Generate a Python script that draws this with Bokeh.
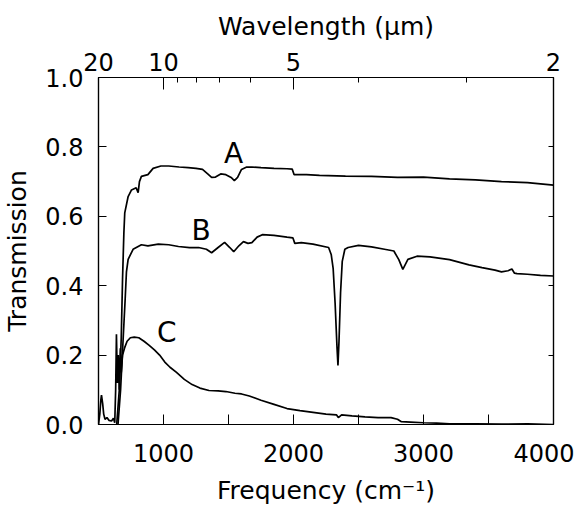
from bokeh.plotting import figure
from bokeh.models import LinearAxis, FixedTicker, ColumnDataSource, Range1d
from bokeh.core.properties import value
from bokeh.embed import file_html
from bokeh.resources import INLINE

# ---- data ----
freq_a = [640, 660, 675, 685, 695, 702, 728, 754, 790, 805, 815, 830, 880, 920, 980,
          1040, 1120, 1190, 1250, 1300, 1340, 1370, 1400, 1440, 1480, 1520, 1545, 1570,
          1600, 1640, 1680, 1750, 1850, 1950, 1990, 2005, 2100, 2200, 2400, 2600, 2800,
          3000, 3200, 3400, 3600, 3800, 4000]
trans_a = [0.0, 0.10, 0.25, 0.42, 0.55, 0.61, 0.657, 0.676, 0.682, 0.668, 0.70, 0.715,
           0.72, 0.738, 0.745, 0.745, 0.742, 0.74, 0.738, 0.735, 0.722, 0.712, 0.713,
           0.722, 0.72, 0.712, 0.703, 0.712, 0.735, 0.742, 0.742, 0.74, 0.738, 0.737,
           0.736, 0.72, 0.72, 0.718, 0.716, 0.715, 0.712, 0.713, 0.708, 0.705, 0.70,
           0.697, 0.69]

freq_b = [650, 670, 690, 705, 715, 728, 766, 830, 880, 960, 1040, 1115, 1200, 1270,
          1330, 1370, 1420, 1470, 1510, 1540, 1580, 1615, 1650, 1680, 1720, 1760, 1850,
          1950, 1995, 2010, 2060, 2150, 2270, 2290, 2305, 2320, 2335, 2342, 2350, 2362,
          2375, 2395, 2420, 2500, 2600, 2700, 2772, 2810, 2841, 2880, 2950, 3050, 3200,
          3350, 3450, 3550, 3600, 3650, 3680, 3700, 3720, 3800, 3900, 4000]
trans_b = [0.0, 0.10, 0.25, 0.36, 0.44, 0.476, 0.505, 0.518, 0.515, 0.52, 0.518, 0.513,
           0.51, 0.51, 0.505, 0.495, 0.51, 0.525, 0.51, 0.498, 0.515, 0.527, 0.522,
           0.524, 0.54, 0.547, 0.545, 0.54, 0.538, 0.522, 0.524, 0.52, 0.51, 0.49, 0.45,
           0.35, 0.22, 0.17, 0.24, 0.38, 0.47, 0.505, 0.51, 0.516, 0.512, 0.505, 0.50,
           0.475, 0.447, 0.476, 0.485, 0.483, 0.475, 0.46, 0.452, 0.445, 0.44, 0.443,
           0.448, 0.436, 0.435, 0.433, 0.43, 0.428]

freq_c = [500, 510, 518, 523, 532, 540, 550, 565, 580, 600, 615, 625, 632, 638, 645,
          652, 660, 668, 675, 685, 700, 720, 745, 775, 810, 850, 890, 930, 970, 1010,
          1050, 1100, 1160, 1220, 1280, 1350, 1420, 1480, 1550, 1600, 1660, 1750, 1850,
          1950, 2050, 2150, 2250, 2330, 2345, 2370, 2450, 2550, 2650, 2750, 2800, 2830,
          2900, 3000, 3100, 3200, 3400, 3600, 3800, 4000]
trans_c = [0.0, 0.03, 0.07, 0.085, 0.06, 0.03, 0.015, 0.02, 0.012, 0.01, 0.018, 0.005,
           0.10, 0.26, 0.12, 0.20, 0.10, 0.22, 0.15, 0.20, 0.22, 0.24, 0.25, 0.252,
           0.25, 0.24, 0.228, 0.215, 0.20, 0.18, 0.165, 0.15, 0.13, 0.115, 0.105, 0.098,
           0.097, 0.095, 0.09, 0.088, 0.082, 0.07, 0.058, 0.046, 0.04, 0.035, 0.03,
           0.028, 0.02, 0.028, 0.025, 0.022, 0.02, 0.02, 0.015, 0.008, 0.007, 0.005,
           0.004, 0.002, 0.002, 0.001, 0.002, 0.0]

curve_names = ["A", "B", "C"]
label_freq = [1540, 1290, 1025]
label_trans = [0.78, 0.56, 0.265]

freq_ticks = [1000, 2000, 3000, 4000]
freq_minor = [1500, 2500, 3500]
wl_major_pos = [500, 1000, 2000, 4000]
wl_major_text = ["20", "10", "5", "2"]
wl_minor_pos = [1111, 1250, 1429, 1667, 2500, 3333]
trans_ticks = [0.0, 0.2, 0.4, 0.6, 0.8, 1.0]

FONT = "DejaVu Sans"
TICK_FS = "24px"
LABEL_FS = "25px"

p = figure(width=574, height=507, output_backend="svg", toolbar_location=None,
           x_range=Range1d(500, 4000), y_range=Range1d(0, 1.0),
           min_border_left=97, min_border_right=21, min_border_top=77,
           min_border_bottom=82, x_axis_location="below")
p.xgrid.visible = False
p.ygrid.visible = False
p.outline_line_color = "black"
p.outline_line_width = 1.2
p.background_fill_color = "white"
p.border_fill_color = "white"

for fx, ty in [(freq_a, trans_a), (freq_b, trans_b), (freq_c, trans_c)]:
    p.line(fx, ty, line_color="black", line_width=1.7)

src = ColumnDataSource(dict(x=label_freq, y=label_trans, t=curve_names))
p.text(x="x", y="y", text="t", source=src, text_font=value(FONT),
       text_font_size="28px", text_align="center", text_baseline="middle",
       text_color="black")

def style(ax):
    ax.axis_line_color = "black"
    ax.axis_line_width = 1.2
    ax.major_tick_line_color = "black"
    ax.minor_tick_line_color = "black"
    ax.major_tick_out = 0
    ax.minor_tick_out = 0
    ax.major_label_text_font = FONT
    ax.major_label_text_font_size = TICK_FS
    ax.major_label_text_color = "black"
    ax.axis_label_text_font = FONT
    ax.axis_label_text_font_size = LABEL_FS
    ax.axis_label_text_font_style = "normal"
    ax.axis_label_text_color = "black"

# bottom axis
xb = p.xaxis[0]
style(xb)
xb.ticker = FixedTicker(ticks=freq_ticks, minor_ticks=freq_minor)
xb.major_tick_in = 10
xb.minor_tick_in = 10
xb.major_label_standoff = 19
xb.axis_label = "Frequency (cm\u207b\u00b9)"
xb.axis_label_standoff = 11

# left axis
yl = p.yaxis[0]
style(yl)
yl.ticker = FixedTicker(ticks=trans_ticks, minor_ticks=[])
yl.major_tick_in = 8
yl.major_label_standoff = 15
yl.axis_label = "Transmission"
yl.axis_label_standoff = 10
yl.major_label_overrides = {0.0: "0.0", 1.0: "1.0"}

# top axis (wavelength)
xt = LinearAxis(ticker=FixedTicker(ticks=wl_major_pos, minor_ticks=wl_minor_pos))
style(xt)
xt.major_tick_in = 12
xt.minor_tick_in = 5
xt.major_label_standoff = 7
xt.major_label_overrides = {pos: txt for pos, txt in zip(wl_major_pos, wl_major_text)}
xt.axis_label = "Wavelength (\u03bcm)"
xt.axis_label_standoff = 9
p.add_layout(xt, "above")

# right axis (ticks only)
yr = LinearAxis(ticker=FixedTicker(ticks=[0.2, 0.4, 0.6, 0.8], minor_ticks=[]))
style(yr)
yr.major_tick_in = 5
yr.major_label_overrides = {0.2: "", 0.4: "", 0.6: "", 0.8: ""}
p.add_layout(yr, "right")

open("out.html", "w").write(file_html(p, INLINE))
